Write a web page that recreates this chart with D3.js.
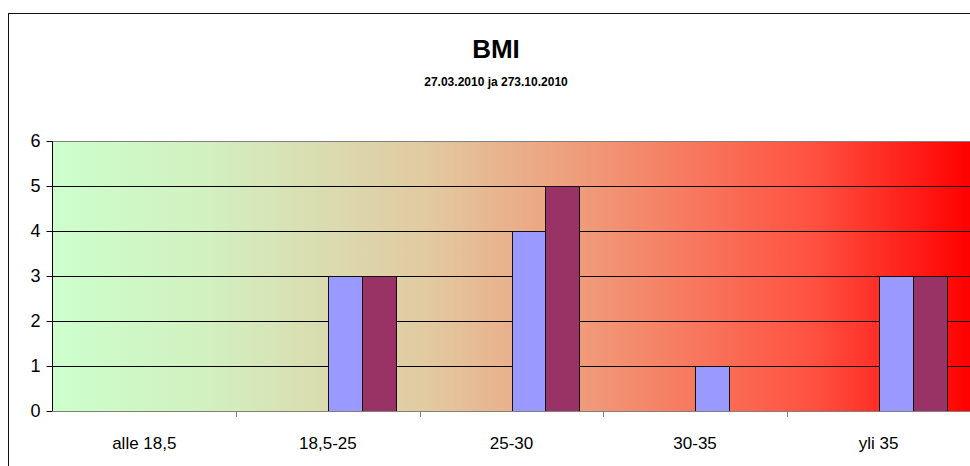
<!DOCTYPE html>
<html><head><meta charset="utf-8">
<script src="https://cdn.jsdelivr.net/npm/d3@7"></script>
<style>
html,body{margin:0;padding:0;background:#fff;}
svg{display:block;font-family:"Liberation Sans",Arial,sans-serif;}
</style></head>
<body><svg id="c" width="970" height="466"></svg>
<script>
const categories = ["alle 18,5","18,5-25","25-30","30-35","yli 35"];
const seriesNames = ["27.03.2010","27.10.2010"];
const series1 = [0,3,4,1,3];
const series2 = [0,3,5,0,3];
const yTicks = [0,1,2,3,4,5,6];
const titleText = "BMI";
const subtitleText = "27.03.2010 ja 273.10.2010";

const svg = d3.select("#c");
const plotL = 52.5, plotR = 970.5, plotT = 141, plotB = 411;

// outer frame
svg.append("rect").attr("x",8.5).attr("y",13.5).attr("width",1000).attr("height",500)
  .attr("fill","none").attr("stroke","#111").attr("stroke-width",1);

const x0 = d3.scaleBand().domain(categories).range([plotL, plotR]).paddingInner(0.26).paddingOuter(0.13);
const x1 = d3.scaleBand().domain([0,1,2,3]).range([0, x0.bandwidth()]);
const y = d3.scaleLinear().domain([0,6]).range([plotB, plotT]);

// gradient
const defs = svg.append("defs");
const g = defs.append("linearGradient").attr("id","bg").attr("x1","0").attr("x2","1").attr("y1","0").attr("y2","0");
[[0,"#ccffcc"],[0.17,"#d2f0c0"],[0.41,"#e2c9a0"],[0.61,"#f29272"],[0.83,"#ff5040"],[1,"#ff0000"]]
  .forEach(s=>g.append("stop").attr("offset",s[0]).attr("stop-color",s[1]));
svg.append("rect").attr("x",plotL).attr("y",plotT).attr("width",plotR-plotL).attr("height",plotB-plotT).attr("fill","url(#bg)");

// gridlines
svg.append("g").selectAll("line").data(yTicks.filter(d=>d>0)).join("line")
  .attr("x1",plotL).attr("x2",plotR)
  .attr("y1",d=>Math.round(y(d))+0.5).attr("y2",d=>Math.round(y(d))+0.5)
  .attr("stroke",d=>d===6?"#808080":"#000").attr("stroke-width",1);

// bars
const colors = ["#9999ff","#993366"];
const data = [series1, series2];
const bars = svg.append("g");
data.forEach((vals, si)=>{
  bars.selectAll(null).data(vals.map((v,i)=>({v, c:categories[i]})).filter(d=>d.v>0)).join("rect")
    .attr("x",d=>Math.round(x0(d.c)+x1(si+2))+0.5)
    .attr("y",d=>Math.round(y(d.v))+0.5)
    .attr("width",Math.round(x1.bandwidth()))
    .attr("height",d=>Math.round(y(0))-Math.round(y(d.v)))
    .attr("fill",colors[si]).attr("stroke","#111").attr("stroke-width",1);
});

// y axis
const ya = svg.append("g").attr("transform",`translate(${plotL},0)`);
ya.append("line").attr("x1",0).attr("x2",0).attr("y1",plotT).attr("y2",plotB+0.5).attr("stroke","#000");
ya.selectAll("line.t").data(yTicks).join("line").attr("class","t")
  .attr("x1",-6).attr("x2",0).attr("y1",d=>Math.round(y(d))+0.5).attr("y2",d=>Math.round(y(d))+0.5).attr("stroke","#000");
ya.selectAll("text").data(yTicks).join("text")
  .attr("x",-12).attr("y",d=>y(d)).attr("dy","0.36em").attr("text-anchor","end")
  .attr("font-size",18).attr("fill","#000").text(d=>d);

// x axis
const xa = svg.append("g");
xa.append("line").attr("x1",plotL).attr("x2",plotR).attr("y1",plotB+0.5).attr("y2",plotB+0.5).attr("stroke","#808080");
const step = x0.step();
xa.selectAll("line.t").data(categories.slice(1)).join("line").attr("class","t")
  .attr("x1",d=>Math.round(x0(d)-x0.paddingInner()*step/2)+0.5)
  .attr("x2",d=>Math.round(x0(d)-x0.paddingInner()*step/2)+0.5)
  .attr("y1",plotB).attr("y2",plotB+6).attr("stroke","#808080");
xa.selectAll("text").data(categories).join("text")
  .attr("x",d=>x0(d)+x0.bandwidth()/2).attr("y",449).attr("text-anchor","middle")
  .attr("font-size",17).attr("fill","#000").text(d=>d);

// titles
svg.append("text").attr("x",496).attr("y",58).attr("text-anchor","middle")
  .attr("font-size",26).attr("font-weight","bold").text(titleText);
svg.append("text").attr("x",496).attr("y",86).attr("text-anchor","middle")
  .attr("font-size",12).attr("font-weight","bold").text(subtitleText);
</script></body></html>
